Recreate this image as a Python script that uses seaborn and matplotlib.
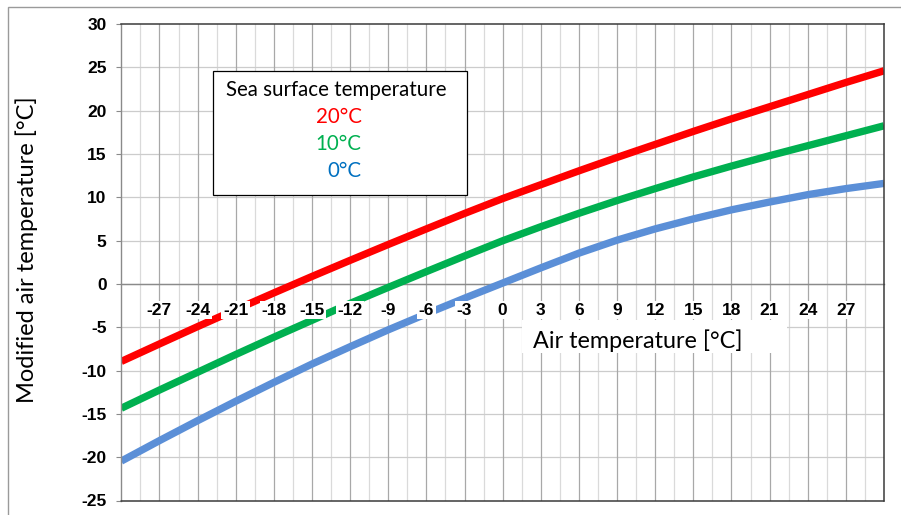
import numpy as np
import pandas as pd
import matplotlib
matplotlib.use("Agg")
import matplotlib.pyplot as plt
from matplotlib.patches import Rectangle
import seaborn as sns

# ---------------- data ----------------
air_temp = [-30, -27, -24, -21, -18, -15, -12, -9, -6, -3, 0,
            3, 6, 9, 12, 15, 18, 21, 24, 27, 30]
mod_sst20 = [-8.95, -6.93, -4.93, -2.97, -1.04, 0.86, 2.72, 4.55, 6.35, 8.13, 9.85,
             11.45, 13.05, 14.6, 16.1, 17.6, 19.05, 20.45, 21.85, 23.25, 24.6]
mod_sst10 = [-14.35, -12.25, -10.2, -8.15, -6.15, -4.2, -2.25, -0.4, 1.42, 3.22, 4.98,
             6.6, 8.15, 9.62, 11.0, 12.35, 13.6, 14.8, 15.95, 17.1, 18.25]
mod_sst0 = [-20.45, -18.09, -15.79, -13.55, -11.37, -9.25, -7.25, -5.3, -3.45, -1.65, 0.1,
            1.85, 3.55, 5.05, 6.35, 7.5, 8.55, 9.45, 10.3, 11.0, 11.6]
series_labels = ["20°C", "10°C", "0°C"]
x_tick_values = list(range(-27, 28, 3))
x_tick_labels = [str(v) for v in x_tick_values]
y_tick_values = list(range(-25, 31, 5))
y_tick_labels = [str(v) for v in y_tick_values]

legend_title = "Sea surface temperature"
x_title = "Air temperature [°C]"
y_title = "Modified air temperature [°C]"

# ---------------- style ----------------
sns.set_theme(style="white")
plt.rcParams['font.family'] = ['Liberation Sans', 'DejaVu Sans']
title_font = ['Lato', 'DejaVu Sans']

W, H = 901, 515
fig = plt.figure(figsize=(W / 100, H / 100), dpi=100)
fig.patch.set_facecolor("white")


def fx(px):
    return px / W


def fy(py):
    return 1 - py / H


L, R, T, B = 121.3, 884.0, 24.0, 500.5
ax = fig.add_axes([fx(L), fy(B), fx(R) - fx(L), fy(T) - fy(B)])
ax.set_facecolor("white")

df = pd.DataFrame({
    "air": air_temp * 3,
    "mod": mod_sst20 + mod_sst10 + mod_sst0,
    "sst": [series_labels[0]] * len(air_temp) + [series_labels[1]] * len(air_temp)
           + [series_labels[2]] * len(air_temp),
})
palette = {"20°C": "#FF0000", "10°C": "#00B050", "0°C": "#5B8FD7"}
sns.lineplot(data=df, x="air", y="mod", hue="sst", hue_order=series_labels,
             palette=palette, linewidth=5.3, legend=False, ax=ax,
             errorbar=None, zorder=2, solid_capstyle="butt")

ax.set_xlim(-30, 30)
ax.set_ylim(-25, 30)

# grid lines
for v in np.arange(-28.5, 30, 3):
    ax.axvline(v, color="#dadada", lw=0.9, zorder=0.5)
for v in range(-20, 30, 5):
    ax.axhline(v, color="#cccccc", lw=0.9, zorder=0.6)
for v in x_tick_values:
    ax.axvline(v, color="#a8a8a8", lw=0.9, zorder=0.7)

# spines
for s in ["top", "right"]:
    ax.spines[s].set_color("#3a3a3a")
    ax.spines[s].set_linewidth(1.1)
ax.spines["left"].set_color("#8a8a8a")
ax.spines["left"].set_linewidth(1.0)
ax.spines["bottom"].set_position(("data", 0))
ax.spines["bottom"].set_color("#8a8a8a")
ax.spines["bottom"].set_linewidth(1.0)
ax.spines["bottom"].set_zorder(1)
ax.axhline(-25, color="#3a3a3a", lw=1.1, clip_on=False, zorder=3)

# ticks
ax.set_yticks(y_tick_values)
ax.set_yticklabels(y_tick_labels, fontweight="bold", fontsize=12.5, color="black")
ax.tick_params(axis="y", left=True, direction="out", length=3.6, width=0.8,
               color="#8a8a8a", pad=7.0)
ax.set_xticks(x_tick_values)
ax.set_xticklabels(x_tick_labels, fontweight="bold", fontsize=12.5, color="black")
ax.tick_params(axis="x", bottom=True, length=0, pad=13.5)
for lbl in ax.get_xticklabels():
    lbl.set_bbox(dict(facecolor="white", edgecolor="none", pad=1.2))
ax.xaxis.set_zorder(3)

# axis titles
ax.set_xlabel("")
ax.set_ylabel(y_title, fontfamily=title_font, fontsize=17, color="black")
ax.yaxis.label.set_va("center")
ax.yaxis.set_label_coords((27 - L) / (R - L), (B - 250) / (B - T))

fig.patches.append(Rectangle((fx(522), fy(353)), fx(787) - fx(522), fy(320) - fy(353),
                             transform=fig.transFigure, facecolor="white",
                             edgecolor="none", zorder=2))
fig.text(fx(533), fy(340.7), x_title, fontfamily=title_font, fontsize=16.8,
         ha="left", va="center", color="black", zorder=3)

# legend-like text box
fig.patches.append(Rectangle((fx(213.3), fy(195)), fx(466.7) - fx(213.3), fy(70.7) - fy(195),
                             transform=fig.transFigure, facecolor="white",
                             edgecolor="black", lw=0.9, zorder=2))
fig.text(fx(226), fy(90), legend_title, fontfamily=title_font, fontsize=14.8,
         ha="left", va="center", color="black", zorder=3)
text_colors = ["#FF0000", "#00B050", "#0070C0"]
for lab, col, py in zip(series_labels, text_colors, [117, 144, 171]):
    fig.text(fx(361.7), fy(py), lab, fontfamily=title_font, fontsize=14.8,
             ha="right", va="center", color=col, zorder=3)

# outer chart border (cropped at right/bottom)
fig.patches.append(Rectangle((fx(7.5), -0.2), 2, fy(6.5) + 0.2,
                             transform=fig.transFigure, facecolor="none",
                             edgecolor="#9a9a9a", lw=1.0, zorder=0.5))

fig.savefig("out.png", dpi=100, facecolor="white")
